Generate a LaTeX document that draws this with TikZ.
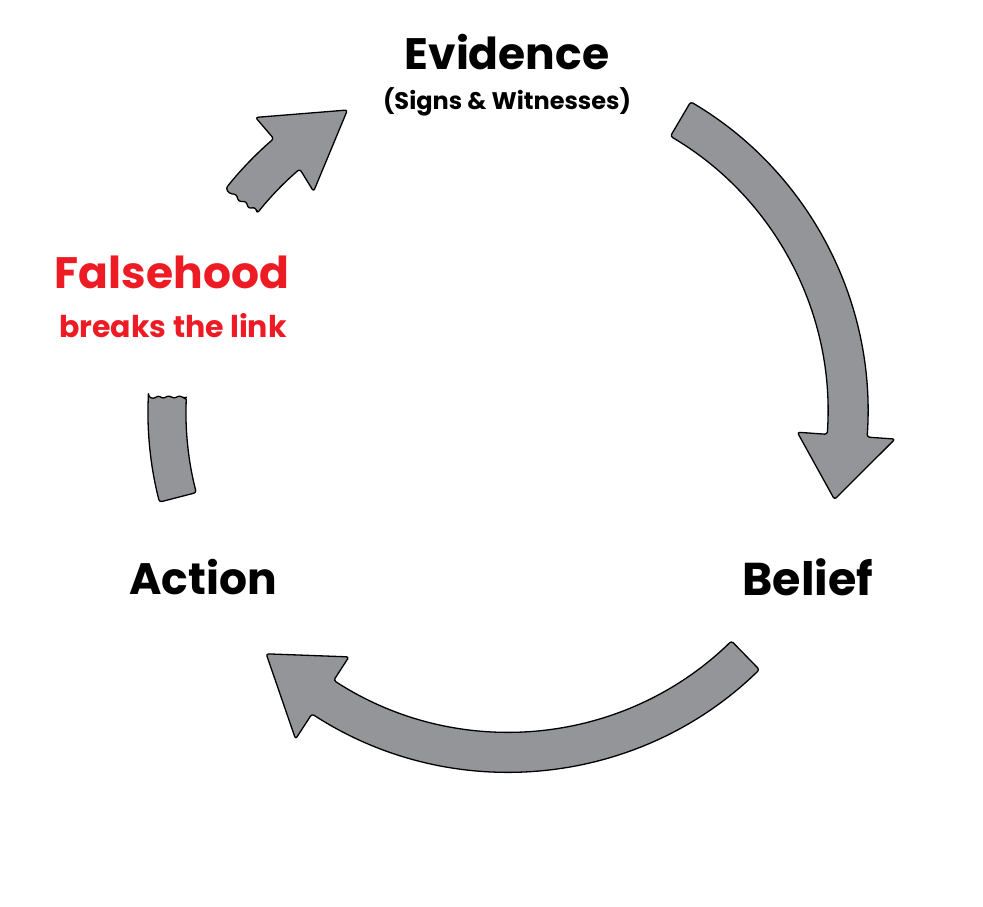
\documentclass[tikz,border=0pt]{standalone}
\usepackage{fontspec}
\setmainfont{Poppins}
\definecolor{arrgray}{HTML}{939598}
\definecolor{falsered}{HTML}{ED1C24}
\begin{document}
\begin{tikzpicture}[x=1pt,y=1pt,
  arr/.style={fill=arrgray, draw=black, line width=1.3pt, line join=round, rounded corners=2.5pt},
  lbl/.style={font=\bfseries, inner sep=0pt, anchor=center}]
\useasboundingbox (0,0) rectangle (983,907);
\begin{scope}[shift={(508,495)}]
% right arrow Evidence -> Belief
\draw[arr] (59.5:360) arc[start angle=59.5, end angle=-4, radius=360]
  -- (-4:388) -- (-15:338) -- (-4:290) -- (-4:320)
  arc[start angle=-4, end angle=59.5, radius=320] -- cycle;
% bottom arrow Belief -> Action
\draw[arr] (-45.7:360) arc[start angle=-45.7, end angle=-123, radius=360]
  -- (-123:390) -- (-135:342) -- (-123:292) -- (-123:320)
  arc[start angle=-123, end angle=-45.7, radius=320] -- cycle;
% broken piece below Falsehood
\draw[arr] (177.5:360) -- (177.9:355) -- (177.3:350) -- (177.8:345) -- (177.2:340)
  -- (177.7:334) -- (177.1:329) -- (177.6:324) -- (177.4:322)
  arc[start angle=177.4, end angle=194.5, radius=322]
  -- (194.5:360) arc[start angle=194.5, end angle=177.5, radius=360] -- cycle;
% broken arrow toward Evidence
\draw[arr] (141.6:320) -- (141.0:325) -- (141.9:330) -- (141.2:336) -- (142.0:342)
  -- (141.3:348) -- (141.9:354) -- (141.6:360)
  arc[start angle=141.6, end angle=130.6, radius=360]
  -- (130.6:388) -- (118:342) -- (131.4:294) -- (130.6:320)
  arc[start angle=130.6, end angle=141.6, radius=320] -- cycle;
\end{scope}
\node[lbl, font=\bfseries\fontsize{44}{50}\selectfont] (evidence) at (507,855) {Evidence};
\node[lbl, font=\bfseries\fontsize{24}{28}\selectfont] (signs) at (507,805) {(Signs \& Witnesses)};
\node[lbl, text=falsered, font=\bfseries\fontsize{44}{50}\selectfont] (falsehood) at (172,635) {Falsehood};
\node[lbl, text=falsered, font=\bfseries\fontsize{30}{34}\selectfont] (breaks) at (173,581) {breaks the link};
\node[lbl, font=\bfseries\fontsize{44}{50}\selectfont] (action) at (203,330) {Action};
\node[lbl, font=\bfseries\fontsize{46}{52}\selectfont] (belief) at (808,330) {Belief};
\end{tikzpicture}
\end{document}
